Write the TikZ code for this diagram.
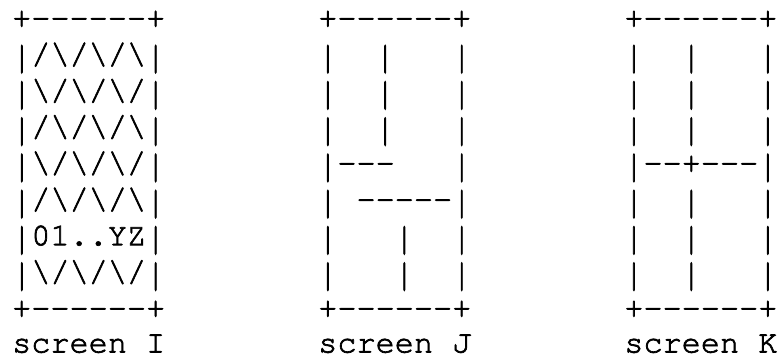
\documentclass[tikz,border=0pt]{standalone}
\usepackage[T1,TU]{fontenc}
\usepackage{graphicx}
\newcommand\ascfont{\fontencoding{T1}\fontfamily{pcr}\fontseries{m}\fontshape{n}\fontsize{31.88}{36}\selectfont}
\newcommand\thickglyphs{\special{pdf:literal direct 2 Tr 0.7 w}}
\newcommand\bs{\char92}
\newcommand\dd{{-}}
% a somewhat taller bar, as in the reference
\newcommand\vb{\raisebox{-4.5pt}{\scalebox{1}[1.22]{|}}}
\begin{document}
\begin{tikzpicture}[x=1pt,y=1pt,
  asc/.style={anchor=base west, inner sep=0pt, outer sep=0pt, font=\ascfont\thickglyphs}]
\useasboundingbox (0,0) rectangle (780,358);
% rows: baseline y = 358 - (27.75 + 36.25 i)
% screen I (column 0)
\node[asc] (I0) at (12.2,330.25) {+\dd\dd\dd\dd\dd\dd+};
\node[asc] (I1) at (12.2,294.00) {\vb/\bs/\bs/\bs\vb};
\node[asc] (I2) at (12.2,257.75) {\vb\bs/\bs/\bs/\vb};
\node[asc] (I3) at (12.2,221.50) {\vb/\bs/\bs/\bs\vb};
\node[asc] (I4) at (12.2,185.25) {\vb\bs/\bs/\bs/\vb};
\node[asc] (I5) at (12.2,149.00) {\vb/\bs/\bs/\bs\vb};
\node[asc] (I6) at (12.2,112.75) {\vb01..YZ\vb};
\node[asc] (I7) at (12.2,76.50) {\vb\bs/\bs/\bs/\vb};
\node[asc] (I8) at (12.2,40.25) {+\dd\dd\dd\dd\dd\dd+};
\node[asc] (I9) at (12.2,5.50) {screen~I};
% screen J (column 16)
\node[asc] (J0) at (318.28,330.25) {+\dd\dd\dd\dd\dd\dd+};
\node[asc] (J1) at (318.28,294.00) {\vb~~\vb~~~\vb};
\node[asc] (J2) at (318.28,257.75) {\vb~~\vb~~~\vb};
\node[asc] (J3) at (318.28,221.50) {\vb~~\vb~~~\vb};
\node[asc] (J4) at (318.28,185.25) {\vb\dd\dd\dd~~~\vb};
\node[asc] (J5) at (318.28,149.00) {\vb~\dd\dd\dd\dd\dd\vb};
\node[asc] (J6) at (318.28,112.75) {\vb~~~\vb~~\vb};
\node[asc] (J7) at (318.28,76.50) {\vb~~~\vb~~\vb};
\node[asc] (J8) at (318.28,40.25) {+\dd\dd\dd\dd\dd\dd+};
\node[asc] (J9) at (318.28,5.50) {screen~J};
% screen K (column 32)
\node[asc] (K0) at (624.36,330.25) {+\dd\dd\dd\dd\dd\dd+};
\node[asc] (K1) at (624.36,294.00) {\vb~~\vb~~~\vb};
\node[asc] (K2) at (624.36,257.75) {\vb~~\vb~~~\vb};
\node[asc] (K3) at (624.36,221.50) {\vb~~\vb~~~\vb};
\node[asc] (K4) at (624.36,185.25) {\vb\dd\dd+\dd\dd\dd\vb};
\node[asc] (K5) at (624.36,149.00) {\vb~~\vb~~~\vb};
\node[asc] (K6) at (624.36,112.75) {\vb~~\vb~~~\vb};
\node[asc] (K7) at (624.36,76.50) {\vb~~\vb~~~\vb};
\node[asc] (K8) at (624.36,40.25) {+\dd\dd\dd\dd\dd\dd+};
\node[asc] (K9) at (624.36,5.50) {screen~K};
\end{tikzpicture}
\end{document}
